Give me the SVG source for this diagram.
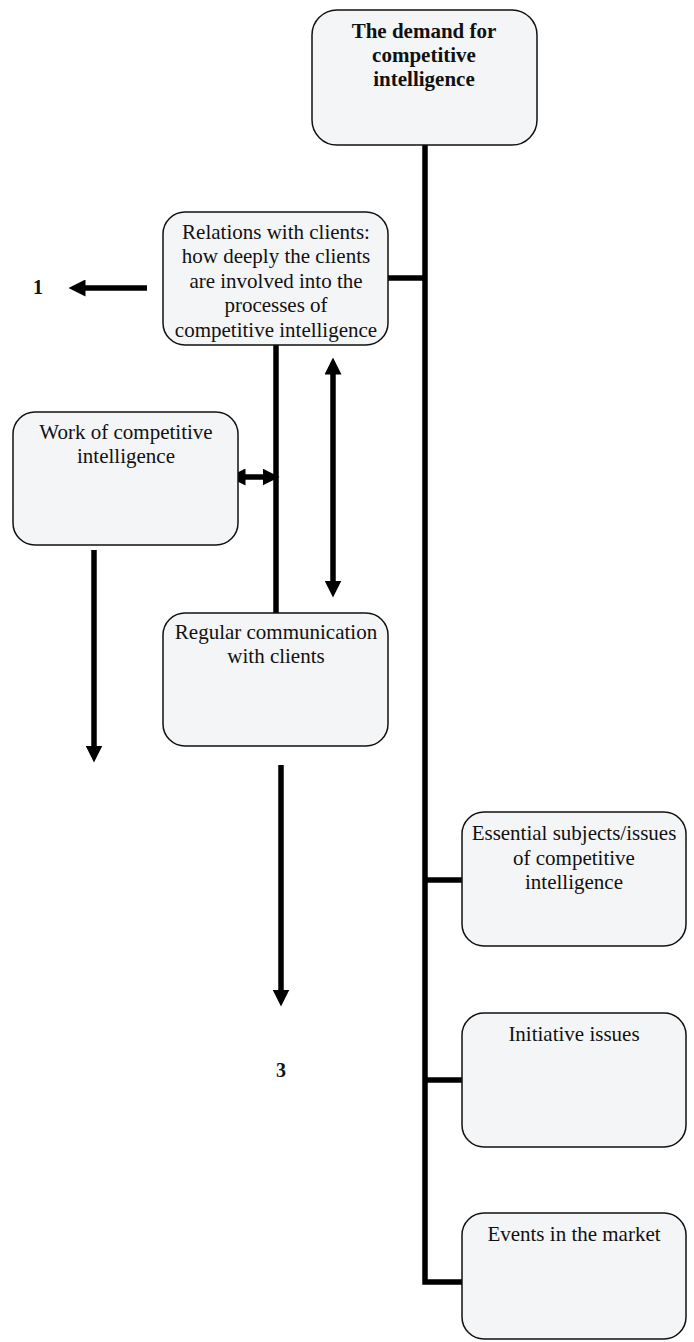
<svg xmlns="http://www.w3.org/2000/svg" width="694" height="1342" viewBox="0 0 694 1342">
<style>
.box{fill:#f4f5f7;stroke:#111;stroke-width:1.5}
.t{font-family:"Liberation Serif","Times New Roman",serif;font-size:21px;fill:#111;text-anchor:middle}
.b{font-weight:bold}
.lbl{font-family:"Liberation Serif","Times New Roman",serif;font-size:20px;font-weight:bold;fill:#111;text-anchor:middle}
.c{stroke:#000;stroke-width:5.5;fill:none}
.a{stroke:#000;stroke-width:5.5;fill:none;marker-end:url(#ah)}
.d{stroke:#000;stroke-width:5.5;fill:none;marker-end:url(#ah);marker-start:url(#ah)}
</style>
<defs>
<marker id="ah" viewBox="0 0 17 17" refX="0.5" refY="8.5" markerWidth="17" markerHeight="17" markerUnits="userSpaceOnUse" orient="auto-start-reverse">
<path d="M0,0 L17,8.5 L0,17 z" fill="#000"/>
</marker>
</defs>
<rect width="694" height="1342" fill="#fff"/>
<g id="connectors">
<path class="c" d="M425,144 V1282 H463"/>
<path class="c" d="M387,278 H425"/>
<path class="c" d="M425,880 H463"/>
<path class="c" d="M425,1080 H463"/>
<path class="c" d="M276,345 V613"/>
<path class="a" d="M147,288 H85"/>
<path class="d" d="M245,477 H263"/>
<path class="d" d="M333,374 V581"/>
<path class="a" d="M94,550 V746"/>
<path class="a" d="M281,765 V990"/>
</g>
<g id="n-demand">
<rect class="box" x="312" y="10" width="225" height="135" rx="25"/>
<text class="t b" x="424" y="38">The demand for</text>
<text class="t b" x="424" y="62">competitive</text>
<text class="t b" x="424" y="86">intelligence</text>
</g>
<g id="n-relations">
<rect class="box" x="163" y="212" width="225" height="133" rx="22"/>
<text class="t" x="276" y="239">Relations with clients:</text>
<text class="t" x="276" y="263">how deeply the clients</text>
<text class="t" x="276" y="288">are involved into the</text>
<text class="t" x="276" y="312">processes of</text>
<text class="t" x="276" y="337">competitive intelligence</text>
</g>
<g id="n-work">
<rect class="box" x="13" y="412" width="225" height="133" rx="22"/>
<text class="t" x="126" y="439">Work of competitive</text>
<text class="t" x="126" y="463">intelligence</text>
</g>
<g id="n-regular">
<rect class="box" x="163" y="613" width="225" height="133" rx="22"/>
<text class="t" x="276" y="639">Regular communication</text>
<text class="t" x="276" y="663">with clients</text>
</g>
<g id="n-essential">
<rect class="box" x="462" y="812" width="224" height="134" rx="22"/>
<text class="t" x="574" y="840">Essential subjects/issues</text>
<text class="t" x="574" y="865">of competitive</text>
<text class="t" x="574" y="889">intelligence</text>
</g>
<g id="n-initiative">
<rect class="box" x="462" y="1013" width="224" height="134" rx="22"/>
<text class="t" x="574" y="1041">Initiative issues</text>
</g>
<g id="n-events">
<rect class="box" x="462" y="1213" width="224" height="126" rx="22"/>
<text class="t" x="574" y="1241">Events in the market</text>
</g>
<g id="labels">
<text class="lbl" x="38" y="294">1</text>
<text class="lbl" x="281" y="1077">3</text>
</g>
</svg>
